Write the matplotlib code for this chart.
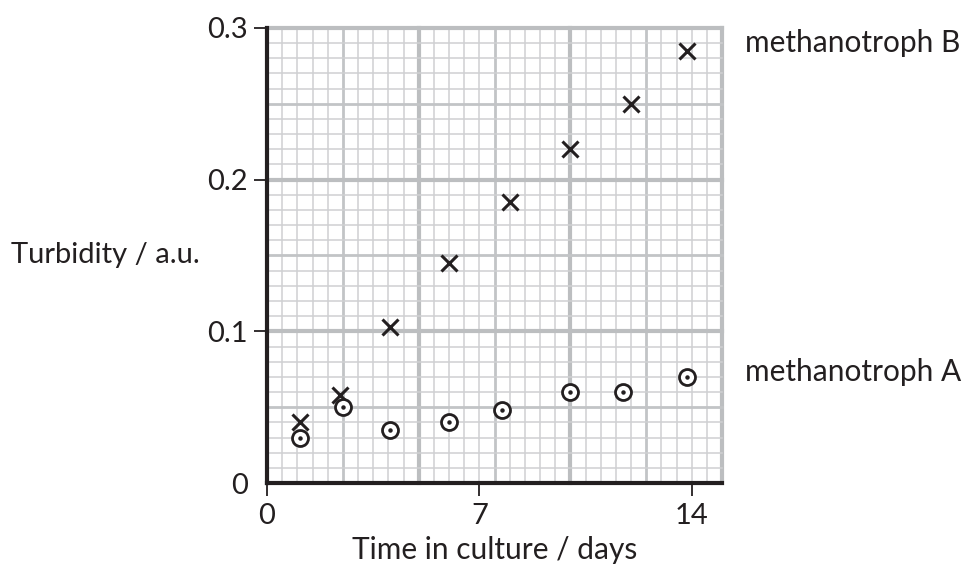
import numpy as np
import matplotlib
matplotlib.use('Agg')
import matplotlib.pyplot as plt

plt.rcParams['font.family'] = ['Lato', 'DejaVu Sans']

days_B = [1.1, 2.4, 4.05, 6.0, 8.0, 10.0, 12.0, 13.85]
turb_B = [0.040, 0.058, 0.103, 0.145, 0.185, 0.220, 0.250, 0.285]
days_A = [1.1, 2.5, 4.05, 6.0, 7.75, 10.0, 11.75, 13.85]
turb_A = [0.030, 0.050, 0.035, 0.040, 0.048, 0.060, 0.060, 0.070]

x_ticks = [0, 7, 14]
x_ticklabels = ['0', '7', '14']
y_ticks = [0, 0.1, 0.2, 0.3]
y_ticklabels = ['0', '0.1', '0.2', '0.3']

ink = '#231f20'
fig = plt.figure(figsize=(9.67, 5.70), dpi=100)
ax = fig.add_axes([267 / 967, 1 - 483 / 570, 455 / 967, 455 / 570])
ax.set_xlim(0, 15)
ax.set_ylim(0, 0.3)

# graph paper: minor every 0.5 day / 0.01, medium every 2.5 / 0.05, major every 5 / 0.1
for i, xv in enumerate(np.arange(0.5, 15.01, 0.5)):
    if i % 10 == 9:
        lw, col = 3.0, '#bcbec0'
    elif i % 5 == 4:
        lw, col = 2.0, '#c2c4c6'
    else:
        lw, col = 1.1, '#cfd0d2'
    ax.axvline(xv, color=col, lw=lw, zorder=1, clip_on=False)
for i, yv in enumerate(np.arange(0.01, 0.3001, 0.01)):
    if i % 10 == 9:
        lw, col = 3.0, '#bcbec0'
    elif i % 5 == 4:
        lw, col = 2.0, '#c2c4c6'
    else:
        lw, col = 1.1, '#cfd0d2'
    ax.axhline(yv, color=col, lw=lw, zorder=1, clip_on=False)

ax.plot(days_B, turb_B, linestyle='none', marker='x', markersize=12,
        markeredgewidth=2.2, color=ink, zorder=5, clip_on=False)
ax.plot(days_A, turb_A, linestyle='none', marker='o', markersize=11.5,
        markeredgewidth=2.0, markerfacecolor='white', markeredgecolor=ink,
        zorder=5, clip_on=False)
ax.plot(days_A, turb_A, linestyle='none', marker='o', markersize=2.2,
        color=ink, zorder=6, clip_on=False)

for side in ['top', 'right']:
    ax.spines[side].set_visible(False)
for side in ['left', 'bottom']:
    ax.spines[side].set_linewidth(3)
    ax.spines[side].set_color(ink)
    ax.spines[side].set_zorder(4)

ax.set_xticks(x_ticks)
ax.set_xticklabels(x_ticklabels)
ax.set_yticks(y_ticks)
ax.set_yticklabels(y_ticklabels)
ax.tick_params(axis='both', direction='out', length=9.5, width=1.3,
               color=ink, labelcolor=ink, labelsize=21)
ax.tick_params(axis='x', pad=5)
ax.tick_params(axis='y', pad=4)
ax.yaxis.get_major_ticks()[0].tick1line.set_visible(False)

ax.text(0.5, -0.148, 'Time in culture / days', transform=ax.transAxes,
        ha='center', va='center', fontsize=21.5, color=ink)
ax.text(-0.147, 0.5, 'Turbidity / a.u.', transform=ax.transAxes,
        ha='right', va='center', fontsize=21, color=ink)

ax.text(1.05, 0.967, 'methanotroph B', transform=ax.transAxes,
        ha='left', va='center', fontsize=21.5, color=ink)
ax.text(1.05, 0.244, 'methanotroph A', transform=ax.transAxes,
        ha='left', va='center', fontsize=21.5, color=ink)

fig.savefig('out.png', dpi=100)
